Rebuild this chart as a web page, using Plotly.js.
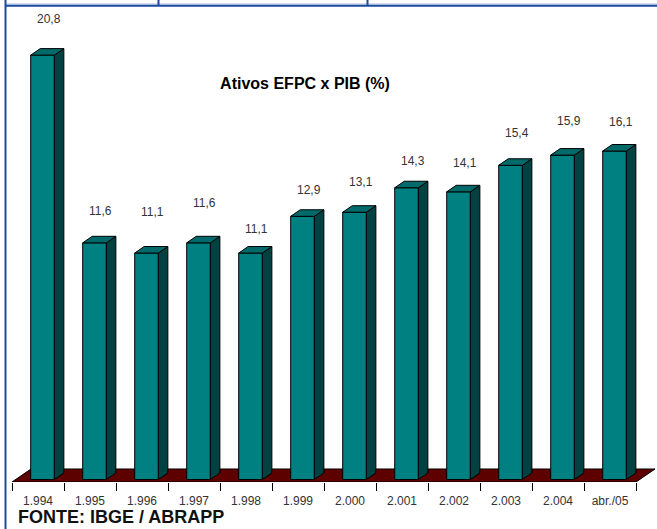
<!DOCTYPE html>
<html><head><meta charset="utf-8">
<script src="https://cdn.plot.ly/plotly-3.0.1.min.js"></script>
<style>html,body{margin:0;padding:0;background:#fff;}#chart{width:657px;height:529px;}</style>
</head><body><div id="chart"></div>
<script>
// ---- data ----
var categories = ['1.994','1.995','1.996','1.997','1.998','1.999','2.000','2.001','2.002','2.003','2.004','abr./05'];
var values = [20.8, 11.6, 11.1, 11.6, 11.1, 12.9, 13.1, 14.3, 14.1, 15.4, 15.9, 16.1];
var labelLift = [36, 32, 41, 40, 24, 26, 30, 27, 29, 32, 34, 29];   // px above bar top (style)
var chartTitle = 'Ativos EFPC x PIB (%)';
var sourceNote = 'FONTE: IBGE / ABRAPP';

// ---- geometry / style ----
var W = 657, H = 529;
var M = {l: 12, r: 2, t: 28, b: 47};
var xr = [-0.5, 11.865], yr = [-0.1225, 22.13];
var off = 0.087, bw = 0.455, dx = 0.183, dy = 0.32;
var floorBack = 0.515, floorShift = 0.365;
var cFront = '#008080', cSide = '#004242', cTop = '#006a6a', cFloor = '#5e0000';

var plotW = W - M.l - M.r, plotH = H - M.t - M.b;
function px2paperX(p){ return (p - M.l) / plotW; }
function px2paperY(p){ return (H - M.b - p) / plotH; }

var fx=[],fy=[],sx=[],sy=[],tx=[],ty=[];
values.forEach(function(v,i){
  var x0 = i + off - bw/2, x1 = x0 + bw;
  fx.push(x0,x1,x1,x0,x0,null); fy.push(0,0,v,v,0,null);
  sx.push(x1,x1+dx,x1+dx,x1,x1,null); sy.push(0,dy,v+dy,v,0,null);
  tx.push(x0,x1,x1+dx,x0+dx,x0,null); ty.push(v,v,v+dy,v+dy,v,null);
});
var n = categories.length;
var floorX = [-0.5, n-0.5, n-0.5+floorShift, -0.5+floorShift, -0.5];
var floorY = [yr[0], yr[0], floorBack, floorBack, yr[0]];

function poly(x,y,fill){
  return {type:'scatter', mode:'lines', x:x, y:y, fill:'toself', fillcolor:fill,
          line:{color:'#000', width:1}, hoverinfo:'skip', showlegend:false, connectgaps:false};
}
var traces = [
  poly(floorX, floorY, cFloor),
  poly(fx, fy, cFront),
  poly(sx, sy, cSide),
  poly(tx, ty, cTop)
];

var annotations = values.map(function(v,i){
  return {x: i + off + 0.115, y: v, xref:'x', yref:'y', text: v.toFixed(1).replace('.', ','),
          showarrow:false, yshift: labelLift[i], yanchor:'middle', xanchor:'center',
          font:{family:'Arial, Liberation Sans, sans-serif', size:12, color:'#333'}};
});
annotations.push({xref:'paper', yref:'paper', x:px2paperX(16), y:px2paperY(517), xanchor:'left', yanchor:'middle',
  text:'<b>'+sourceNote+'</b>', showarrow:false,
  font:{family:'Arial, Liberation Sans, sans-serif', size:18, color:'#111'}});

var blue = '#1b4a9e', light = '#a9bbe0';
var shapes = [
  {type:'line', xref:'paper', yref:'paper', x0:px2paperX(5), x1:px2paperX(657), y0:px2paperY(4), y1:px2paperY(4), line:{color:light, width:1}},
  {type:'line', xref:'paper', yref:'paper', x0:px2paperX(5), x1:px2paperX(657), y0:px2paperY(5.8), y1:px2paperY(5.8), line:{color:blue, width:2}},
  {type:'line', xref:'paper', yref:'paper', x0:px2paperX(5.5), x1:px2paperX(5.5), y0:px2paperY(0), y1:px2paperY(529), line:{color:blue, width:2}},
  {type:'line', xref:'paper', yref:'paper', x0:px2paperX(158.5), x1:px2paperX(158.5), y0:px2paperY(0), y1:px2paperY(6), line:{color:blue, width:2}},
  {type:'line', xref:'paper', yref:'paper', x0:px2paperX(367.5), x1:px2paperX(367.5), y0:px2paperY(0), y1:px2paperY(6), line:{color:blue, width:2}}
];

var layout = {
  width: W, height: H, margin: M, paper_bgcolor:'#fff', plot_bgcolor:'#fff', showlegend:false,
  title: {text:'<b>'+chartTitle+'</b>', xref:'container', yref:'container', x: 305/W, xanchor:'center',
          y: 1 - 83/H, yanchor:'middle', font:{family:'Arial, Liberation Sans, sans-serif', size:16, color:'#000'}},
  xaxis: {range: xr, showgrid:false, zeroline:false, showline:false,
          tickmode:'array', tickvals: categories.map(function(c,i){return i;}), ticktext: categories,
          ticks:'outside', ticklen:8, tickcolor:'rgba(0,0,0,0)',
          tickfont:{family:'Arial, Liberation Sans, sans-serif', size:12, color:'#333'},
          minor:{ticks:'outside', tickmode:'linear', tick0:-0.5, dtick:1, ticklen:8, tickcolor:'#000', tickwidth:1, showgrid:false}},
  yaxis: {range: yr, showgrid:false, zeroline:false, showline:false, showticklabels:false, ticks:''},
  annotations: annotations, shapes: shapes, hovermode:false
};
Plotly.newPlot('chart', traces, layout, {staticPlot:true, displayModeBar:false});
</script></body></html>
